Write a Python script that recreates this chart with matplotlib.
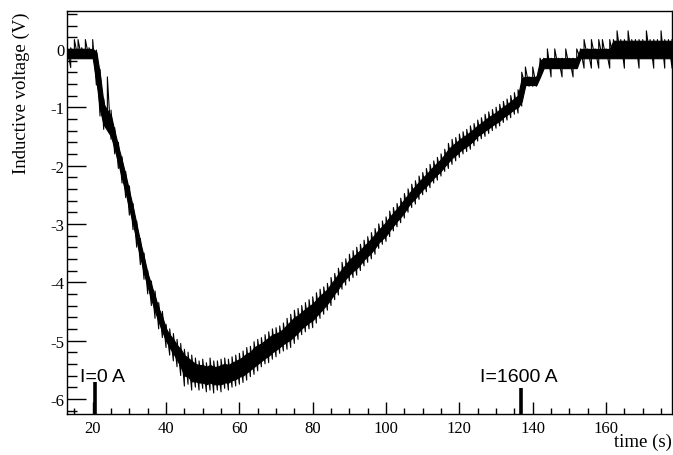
import numpy as np
import matplotlib
matplotlib.use("Agg")
import matplotlib.pyplot as plt
from matplotlib.ticker import MultipleLocator

plt.rcParams["axes.unicode_minus"] = False

# time axis, one sample per second (s)
time_s = list(range(13, 179))

# outer edge of the noise spikes (V)
v_low = [
    -0.16, -0.32, -0.16, -0.16, -0.16, -0.16, -0.16, -0.16, -0.62, -1.15,  # 13-22
    -1.38, -1.30, -1.55, -1.80, -2.05, -2.30, -2.55, -2.85, -3.10, -3.40,  # 23-32
    -3.70, -3.95, -4.20, -4.40, -4.62, -4.80, -4.95, -5.12, -5.25, -5.35,  # 33-42
    -5.45, -5.60, -5.78, -5.75, -5.85, -5.80, -5.85, -5.82, -5.88, -5.85,  # 43-52
    -5.90, -5.85, -5.88, -5.82, -5.85, -5.80, -5.78, -5.75, -5.72, -5.68,  # 53-62
    -5.62, -5.58, -5.52, -5.45, -5.40, -5.38, -5.32, -5.28, -5.22, -5.18,  # 63-72
    -5.15, -5.12, -5.05, -4.98, -4.90, -4.85, -4.80, -4.78, -4.70, -4.62,  # 73-82
    -4.55, -4.48, -4.40, -4.30, -4.22, -4.12, -4.05, -3.98, -3.92, -3.88,  # 83-92
    -3.80, -3.72, -3.66, -3.60, -3.52, -3.42, -3.35, -3.30, -3.22, -3.12,  # 93-102
    -3.05, -2.98, -2.90, -2.80, -2.72, -2.66, -2.58, -2.50, -2.45, -2.38,  # 103-112
    -2.30, -2.25, -2.18, -2.10, -2.05, -1.98, -1.92, -1.86, -1.80, -1.76,  # 113-122
    -1.72, -1.66, -1.58, -1.54, -1.50, -1.45, -1.40, -1.36, -1.32, -1.26,  # 123-132
    -1.22, -1.18, -1.12, -1.10, -0.98, -0.64, -0.64, -0.64, -0.64, -0.48,  # 133-142
    -0.33, -0.33, -0.48, -0.33, -0.33, -0.48, -0.33, -0.33, -0.48, -0.33,  # 143-152
    -0.16, -0.33, -0.16, -0.33, -0.16, -0.33, -0.16, -0.16, -0.33, -0.16,  # 153-162
    -0.16, -0.16, -0.33, -0.16, -0.16, -0.16, -0.33, -0.16, -0.16, -0.16,  # 163-172
    -0.33, -0.16, -0.16, -0.33, -0.16, -0.33,                              # 173-178
]
v_high = [
    0.02, 0.02, 0.16, 0.16, 0.02, 0.16, 0.02, 0.16, -0.02, -0.35,
    -0.85, -0.48, -1.05, -1.35, -1.60, -1.85, -2.10, -2.35, -2.65, -2.95,
    -3.25, -3.50, -3.80, -3.98, -4.15, -4.35, -4.50, -4.72, -4.80, -4.88,
    -4.98, -5.05, -5.15, -5.20, -5.25, -5.30, -5.35, -5.32, -5.38, -5.30,
    -5.35, -5.35, -5.32, -5.30, -5.32, -5.28, -5.25, -5.22, -5.18, -5.12,
    -5.10, -5.02, -4.98, -4.95, -4.90, -4.85, -4.80, -4.78, -4.75, -4.70,
    -4.62, -4.55, -4.48, -4.45, -4.40, -4.35, -4.30, -4.25, -4.18, -4.12,
    -4.08, -4.02, -3.92, -3.85, -3.76, -3.66, -3.60, -3.52, -3.46, -3.40,
    -3.35, -3.28, -3.22, -3.15, -3.08, -3.00, -2.95, -2.88, -2.78, -2.72,
    -2.65, -2.56, -2.48, -2.40, -2.32, -2.26, -2.18, -2.12, -2.05, -1.98,
    -1.92, -1.86, -1.80, -1.72, -1.62, -1.55, -1.52, -1.46, -1.42, -1.38,
    -1.32, -1.28, -1.22, -1.18, -1.12, -1.08, -1.04, -1.00, -0.95, -0.90,
    -0.86, -0.80, -0.75, -0.70, -0.40, -0.31, -0.48, -0.31, -0.48, -0.16,
    -0.16, 0.00, -0.16, 0.00, -0.16, -0.16, 0.00, -0.16, -0.16, 0.00,
    0.00, 0.16, 0.00, 0.16, 0.00, 0.16, 0.16, 0.00, 0.16, 0.16,
    0.31, 0.16, 0.16, 0.31, 0.16, 0.16, 0.16, 0.16, 0.31, 0.16,
    0.16, 0.16, 0.31, 0.16, 0.16, 0.16,
]

# solid (dense) part of the trace (V)
core_low = [
    -0.16, -0.16, -0.16, -0.16, -0.16, -0.16, -0.16, -0.16, -0.55, -1.05,
    -1.30, -1.40, -1.50, -1.72, -1.97, -2.22, -2.47, -2.75, -3.00, -3.30,
    -3.58, -3.85, -4.08, -4.30, -4.50, -4.68, -4.85, -5.00, -5.12, -5.22,
    -5.33, -5.45, -5.60, -5.62, -5.70, -5.70, -5.72, -5.72, -5.75, -5.72,
    -5.75, -5.75, -5.75, -5.72, -5.72, -5.68, -5.66, -5.62, -5.60, -5.55,
    -5.50, -5.45, -5.40, -5.35, -5.30, -5.26, -5.20, -5.16, -5.11, -5.06,
    -5.02, -4.98, -4.92, -4.86, -4.79, -4.74, -4.69, -4.65, -4.58, -4.51,
    -4.44, -4.37, -4.28, -4.19, -4.11, -4.01, -3.94, -3.87, -3.81, -3.76,
    -3.69, -3.61, -3.55, -3.49, -3.41, -3.32, -3.26, -3.20, -3.11, -3.03,
    -2.95, -2.88, -2.80, -2.70, -2.62, -2.56, -2.48, -2.41, -2.35, -2.28,
    -2.21, -2.15, -2.09, -2.01, -1.94, -1.87, -1.82, -1.76, -1.71, -1.67,
    -1.62, -1.56, -1.49, -1.45, -1.40, -1.36, -1.31, -1.27, -1.23, -1.17,
    -1.13, -1.08, -1.03, -1.00, -0.90, -0.62, -0.62, -0.62, -0.62, -0.48,
    -0.33, -0.33, -0.33, -0.33, -0.33, -0.33, -0.33, -0.33, -0.33, -0.33,
    -0.16, -0.16, -0.16, -0.16, -0.16, -0.16, -0.16, -0.16, -0.16, -0.16,
    -0.16, -0.16, -0.16, -0.16, -0.16, -0.16, -0.16, -0.16, -0.16, -0.16,
    -0.16, -0.16, -0.16, -0.16, -0.16, -0.16,
]
core_high = [
    0.00, 0.00, 0.00, 0.00, 0.00, 0.00, 0.00, 0.00, -0.05, -0.45,
    -0.95, -1.05, -1.15, -1.42, -1.68, -1.92, -2.17, -2.45, -2.72, -3.02,
    -3.32, -3.58, -3.85, -4.05, -4.25, -4.45, -4.60, -4.80, -4.90, -4.98,
    -5.08, -5.15, -5.25, -5.30, -5.35, -5.40, -5.42, -5.42, -5.45, -5.42,
    -5.45, -5.45, -5.42, -5.40, -5.42, -5.38, -5.35, -5.32, -5.28, -5.22,
    -5.20, -5.12, -5.08, -5.05, -5.00, -4.95, -4.90, -4.88, -4.85, -4.80,
    -4.73, -4.67, -4.60, -4.57, -4.51, -4.46, -4.41, -4.37, -4.30, -4.23,
    -4.18, -4.12, -4.03, -3.95, -3.86, -3.77, -3.70, -3.62, -3.56, -3.51,
    -3.45, -3.38, -3.32, -3.25, -3.18, -3.10, -3.04, -2.97, -2.88, -2.81,
    -2.74, -2.66, -2.58, -2.50, -2.42, -2.35, -2.28, -2.21, -2.15, -2.08,
    -2.01, -1.95, -1.89, -1.81, -1.72, -1.66, -1.61, -1.56, -1.51, -1.47,
    -1.42, -1.37, -1.31, -1.27, -1.22, -1.17, -1.13, -1.09, -1.04, -0.99,
    -0.95, -0.90, -0.85, -0.80, -0.50, -0.48, -0.48, -0.48, -0.48, -0.20,
    -0.16, -0.16, -0.16, -0.16, -0.16, -0.16, -0.16, -0.16, -0.16, -0.16,
    0.00, 0.00, 0.00, 0.00, 0.00, 0.00, 0.00, 0.00, 0.00, 0.14,
    0.14, 0.14, 0.14, 0.14, 0.14, 0.14, 0.14, 0.14, 0.14, 0.14,
    0.14, 0.14, 0.14, 0.14, 0.14, 0.14,
]

# current markers
marker_t = [20.6, 136.8]
marker_top = [-5.71, -5.82]
marker_labels = ["I=0 A", "I=1600 A"]
marker_label_x = [16.6, 125.6]
marker_label_y = -5.69

x_range = (13, 178)
y_range = (-6.26, 0.65)

serif = "Liberation Serif"
sans = "Liberation Sans"

fig = plt.figure(figsize=(6.73, 4.56), dpi=100)
ax = fig.add_axes([0.0996, 0.0899, 0.899, 0.8838])

# dense part of the trace, then the spikes as a zigzag over it
ax.fill_between(time_s, core_low, core_high, color="black", lw=0.8)
xs = np.repeat(time_s, 2)
ys = np.column_stack([v_low, v_high]).ravel()
ax.plot(xs, ys, color="black", lw=0.8)

ax.vlines(marker_t, y_range[0], marker_top, color="black", lw=2.6)
for lx, lab in zip(marker_label_x, marker_labels):
    ax.text(lx, marker_label_y, lab, family=sans, fontsize=14,
            ha="left", va="baseline")

ax.set_xlim(*x_range)
ax.set_ylim(*y_range)

ax.xaxis.set_major_locator(MultipleLocator(20))
ax.xaxis.set_minor_locator(MultipleLocator(5))
ax.yaxis.set_major_locator(MultipleLocator(1))
ax.yaxis.set_minor_locator(MultipleLocator(0.2))

ax.tick_params(axis="both", which="both", direction="in", top=False, right=False)
ax.tick_params(axis="y", which="major", length=14, width=1.0, pad=2)
ax.tick_params(axis="y", which="minor", length=7, width=1.0)
ax.tick_params(axis="x", which="major", length=8.5, width=1.0, pad=4)
ax.tick_params(axis="x", which="minor", length=4, width=1.0)
for lab in ax.get_xticklabels() + ax.get_yticklabels():
    lab.set_family(serif)
    lab.set_fontsize(12)
for sp in ax.spines.values():
    sp.set_linewidth(1.0)

fig.text(21 / 673, 1 - 12 / 456, "Inductive voltage (V)", family=serif,
         fontsize=13.5, rotation=90, ha="center", va="top")
fig.text(672 / 673, 1 - 442 / 456, "time (s)", family=serif,
         fontsize=13.5, ha="right", va="center")

fig.savefig("out.png", dpi=100)
